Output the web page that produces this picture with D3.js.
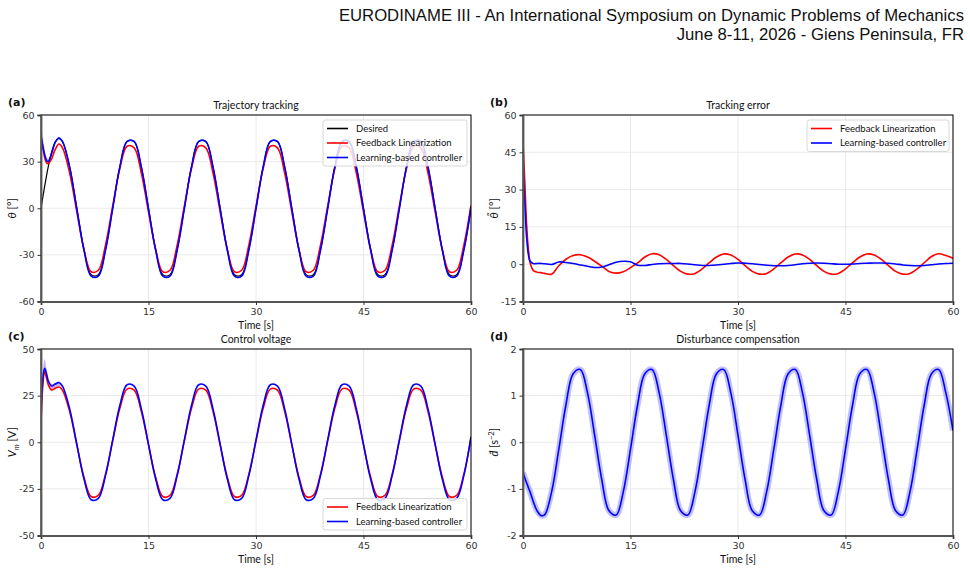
<!DOCTYPE html>
<html lang="en">
<head>
<meta charset="UTF-8">
<title>Pendulum tracking results</title>
<script src="https://cdn.jsdelivr.net/npm/d3@7"></script>
<style>
  body { margin: 0; background: #fff; }
  .tick text { font-family: "DejaVu Sans", sans-serif; font-size: 9.5px; fill: #333; }
  .tick line { stroke: #333; }
  .txt { font-family: Lato, "DejaVu Sans", sans-serif; fill: #111; }
  .letter { font-family: "DejaVu Sans", sans-serif; font-weight: bold; font-size: 11px; fill: #111; }
  .header { font-family: "Liberation Sans", Arial, sans-serif; font-size: 16.7px; fill: #111; }
</style>
</head>
<body>
<script>
// sample times [s]
const time = [0, 0.25, 0.5, 0.75, 1, 1.5, 2, 2.5].concat(d3.range(3, 61));

const xTicks = [0, 15, 30, 45, 60];

// (a) trajectory tracking, theta [deg]
const thetaDesired = [0, 7.0, 13.9, 20.4, 26.5, 36.4, 42.8, 45.0,
  42.8, 26.5, 0, -26.5, -42.8, -42.8, -26.5,
  0, 26.5, 42.8, 42.8, 26.5, 0, -26.5, -42.8, -42.8, -26.5,
  0, 26.5, 42.8, 42.8, 26.5, 0, -26.5, -42.8, -42.8, -26.5,
  0, 26.5, 42.8, 42.8, 26.5, 0, -26.5, -42.8, -42.8, -26.5,
  0, 26.5, 42.8, 42.8, 26.5, 0, -26.5, -42.8, -42.8, -26.5,
  0, 26.5, 42.8, 42.8, 26.5, 0, -26.5, -42.8, -42.8, -26.5,
  0];
const thetaFL = [46, 39.5, 33, 29.5, 28.7, 32, 38, 41.3,
  38.9, 22.7, -2.3, -26.6, -40.9, -39.9, -23.7,
  1.3, 25.6, 39.9, 38.9, 22.7, -2.3, -26.6, -40.9, -39.9, -23.7,
  1.3, 25.6, 39.9, 38.9, 22.7, -2.3, -26.6, -40.9, -39.9, -23.7,
  1.3, 25.6, 39.9, 38.9, 22.7, -2.3, -26.6, -40.9, -39.9, -23.7,
  1.3, 25.6, 39.9, 38.9, 22.7, -2.3, -26.6, -40.9, -39.9, -23.7,
  1.3, 25.6, 39.9, 38.9, 22.7, -2.3, -26.6, -40.9, -39.9, -23.7,
  1.8];
const thetaLB = [46.5, 40, 34.5, 31, 30, 35.5, 42.5, 45.2,
  43.0, 26.6, -0.4, -27.0, -43.7, -43.7, -27.0,
  -0.4, 26.6, 43.0, 43.0, 26.6, -0.4, -27.0, -43.7, -43.7, -27.0,
  -0.4, 26.6, 43.0, 43.0, 26.6, -0.4, -27.0, -43.7, -43.7, -27.0,
  -0.4, 26.6, 43.0, 43.0, 26.6, -0.4, -27.0, -43.7, -43.7, -27.0,
  -0.4, 26.6, 43.0, 43.0, 26.6, -0.4, -27.0, -43.7, -43.7, -27.0,
  -0.4, 26.6, 43.0, 43.0, 26.6, -0.4, -27.0, -43.7, -43.7, -27.0,
  0.5];
const thetaBandHi = [55, 46, 38.5, 33.5, 31.5, 36.3, 43.2, 45.6, 43.3];
const thetaBandLo = [44, 37.5, 32, 29, 28.3, 33.5, 41.5, 44.7, 42.7];

// (b) tracking error [deg]
const errFL = [49, 33, 16, 6, 0.5, -2.7, -3.2, -3.4,
  -3.7, -4.0, -0.6, 2.0, 3.5, 3.8, 2.9,
  1.2, -0.8, -2.9, -3.6, -3.0, -1.4, 0.5, 2.9, 4.2, 3.8,
  1.9, -0.6, -2.9, -4.0, -3.7, -1.9, 0.6, 2.9, 4.1, 3.7,
  1.9, -0.6, -2.9, -4.0, -3.7, -1.9, 0.6, 2.9, 4.1, 3.7,
  1.9, -0.6, -2.9, -4.0, -3.7, -1.9, 0.6, 2.9, 4.1, 3.7,
  1.9, -0.6, -2.9, -4.0, -3.7, -1.9, 0.6, 3.1, 4.2, 3.5,
  2.4];
const errLB = [41, 25, 11, 4, 1.2, 0.2, 0.3, 0.3,
  0.2, -0.1, 0.9, 0.7, 0.3, -0.3, -0.8,
  -1.3, -1.1, -0.2, 0.8, 1.2, 1.0, -0.4, -0.5, -0.1, 0.2,
  0.3, 0.3, 0.3, 0.1, -0.2, -0.5, -0.5, -0.3, 0.0, 0.3,
  0.5, 0.4, 0.2, -0.1, -0.4, -0.6, -0.6, -0.5, -0.2, 0.2,
  0.4, 0.5, 0.4, 0.2, 0.0, 0.0, 0.1, 0.3, 0.4, 0.5,
  0.5, 0.4, 0.1, -0.3, -0.5, -0.6, -0.5, -0.2, 0.1, 0.3,
  0.4];
const errBandHi = [49.5, 36, 19, 8, 2.2];
const errBandLo = [39, 23, 9.5, 3, 0.2];

// (c) control voltage [V]
const voltFL = [9, 30, 37.8, 35, 31, 28, 29, 29.6,
  27.9, 16.5, -1.4, -18.8, -29.1, -28.5, -17.1,
  0.7, 18.2, 28.5, 27.9, 16.5, -1.4, -18.8, -29.1, -28.5, -17.1,
  0.7, 18.2, 28.5, 27.9, 16.5, -1.4, -18.8, -29.1, -28.5, -17.1,
  0.7, 18.2, 28.5, 27.9, 16.5, -1.4, -18.8, -29.1, -28.5, -17.1,
  0.7, 18.2, 28.5, 27.9, 16.5, -1.4, -18.8, -29.1, -28.5, -17.1,
  0.7, 18.2, 28.5, 27.9, 16.5, -1.4, -18.8, -29.1, -28.5, -17.1,
  2.5];
const voltLB = [13.7, 34, 39.6, 37, 33, 30.2, 31.2, 32,
  30.1, 17.9, -1.1, -19.7, -30.8, -30.1, -17.9,
  1.1, 19.7, 30.8, 30.1, 17.9, -1.1, -19.7, -30.8, -30.1, -17.9,
  1.1, 19.7, 30.8, 30.1, 17.9, -1.1, -19.7, -30.8, -30.1, -17.9,
  1.1, 19.7, 30.8, 30.1, 17.9, -1.1, -19.7, -30.8, -30.1, -17.9,
  1.1, 19.7, 30.8, 30.1, 17.9, -1.1, -19.7, -30.8, -30.1, -17.9,
  1.1, 19.7, 30.8, 30.1, 17.9, -1.1, -19.7, -30.8, -30.1, -17.9,
  3.0];
const voltBandHi = [16, 38, 44.5, 40, 35, 31.2, 31.9, 32.6, 30.5];
const voltBandLo = [6, 28, 36, 33.5, 30.5, 28.3, 29.2, 30.2, 29.6];

// (d) estimated disturbance [s^-2]
const dHat = [-0.65, -0.76, -0.87, -0.97, -1.07, -1.3, -1.48, -1.57,
  -1.56, -1.06, -0.15, 0.81, 1.47, 1.56, 1.06,
  0.15, -0.81, -1.47, -1.56, -1.06, -0.15, 0.81, 1.47, 1.56, 1.06,
  0.15, -0.81, -1.47, -1.56, -1.06, -0.15, 0.81, 1.47, 1.56, 1.06,
  0.15, -0.81, -1.47, -1.56, -1.06, -0.15, 0.81, 1.47, 1.56, 1.06,
  0.15, -0.81, -1.47, -1.56, -1.06, -0.15, 0.81, 1.47, 1.56, 1.06,
  0.15, -0.81, -1.47, -1.56, -1.06, -0.15, 0.81, 1.47, 1.56, 1.06,
  0.25];

const RED = "#ff0000", BLUE = "#0000ff";

const svg = d3.select("body").append("svg")
  .attr("width", 970)
  .attr("height", 572);

// conference header
svg.append("text").attr("class", "header")
  .attr("x", 964).attr("y", 21).attr("text-anchor", "end")
  .text("EURODINAME III - An International Symposium on Dynamic Problems of Mechanics");
svg.append("text").attr("class", "header")
  .attr("x", 964).attr("y", 40).attr("text-anchor", "end")
  .text("June 8-11, 2026 - Giens Peninsula, FR");

function drawPanel(p) {
  const x = d3.scaleLinear().domain([0, 60]).range([p.x0, p.x1]);
  const y = d3.scaleLinear().domain(p.yDomain).range([p.y1, p.y0]);
  const g = svg.append("g");

  // grid
  g.append("g").selectAll("line").data(xTicks).join("line")
    .attr("x1", d => x(d)).attr("x2", d => x(d))
    .attr("y1", p.y0).attr("y2", p.y1)
    .attr("stroke", "#e8e8e8").attr("stroke-width", 0.9);
  g.append("g").selectAll("line").data(p.yTicks).join("line")
    .attr("x1", p.x0).attr("x2", p.x1)
    .attr("y1", d => y(d)).attr("y2", d => y(d))
    .attr("stroke", "#e8e8e8").attr("stroke-width", 0.9);

  g.append("clipPath").attr("id", "clip-" + p.id)
    .append("rect").attr("x", p.x0).attr("y", p.y0)
    .attr("width", p.x1 - p.x0).attr("height", p.y1 - p.y0);
  const plot = g.append("g").attr("clip-path", `url(#clip-${p.id})`);

  // spread of the runs near the start
  if (p.bandHi) {
    const area = d3.area()
      .x((d, i) => x(time[i]))
      .y0((d, i) => y(p.bandLo[i]))
      .y1(d => y(d))
      .curve(d3.curveCatmullRom);
    plot.append("path").datum(p.bandHi)
      .attr("d", area)
      .attr("fill", "#9a4fc8").attr("fill-opacity", 0.45);
  }

  const line = d3.line()
    .x((d, i) => x(time[i]))
    .y(d => y(d))
    .curve(d3.curveCatmullRom);

  p.series.forEach(s => {
    if (s.glow) {
      plot.append("path").datum(s.values)
        .attr("d", line).attr("fill", "none")
        .attr("stroke", "#8585ff").attr("stroke-opacity", 0.5)
        .attr("stroke-width", 6).attr("stroke-linejoin", "round");
    }
    plot.append("path").datum(s.values)
      .attr("d", line).attr("fill", "none")
      .attr("stroke", s.color).attr("stroke-width", s.width || 1.6)
      .attr("stroke-linejoin", "round");
  });

  // frame
  g.append("rect").attr("x", p.x0).attr("y", p.y0)
    .attr("width", p.x1 - p.x0).attr("height", p.y1 - p.y0)
    .attr("fill", "none").attr("stroke", "#000").attr("stroke-width", 1);

  // axes
  const ax = g.append("g").attr("transform", `translate(0,${p.y1})`)
    .call(d3.axisBottom(x).tickValues(xTicks).tickSize(3.5).tickPadding(3).tickFormat(d => String(d)));
  ax.select(".domain").attr("stroke", "#555").attr("stroke-width", 1.8);
  const ay = g.append("g").attr("transform", `translate(${p.x0},0)`)
    .call(d3.axisLeft(y).tickValues(p.yTicks).tickSize(3.5).tickPadding(3).tickFormat(d => String(d)));
  ay.select(".domain").attr("stroke", "#555").attr("stroke-width", 1.8);
  g.selectAll(".tick text").attr("font-family", null).attr("font-size", null);

  // titles and labels
  const mid = (p.x0 + p.x1) / 2;
  g.append("text").attr("class", "letter")
    .attr("x", p.x0 - 33).attr("y", p.y0 - 9).text(p.letter);
  g.append("text").attr("class", "txt")
    .attr("x", mid).attr("y", p.y0 - 6).attr("text-anchor", "middle")
    .attr("font-size", 10.5).text(p.title);
  g.append("text").attr("class", "txt")
    .attr("x", mid).attr("y", p.y1 + 27).attr("text-anchor", "middle")
    .attr("font-size", 10.5).text("Time [s]");
  const yl = g.append("text").attr("class", "txt")
    .attr("font-size", 11).attr("text-anchor", "middle")
    .attr("transform", `translate(${p.x0 - 25},${(p.y0 + p.y1) / 2}) rotate(-90)`);
  p.ylabel(yl);

  // legend
  if (p.legend) {
    const lw = p.legendWidth, lh = p.legend.length * 14.5 + 2.5;
    const lx = p.x1 - 4 - lw;
    const ly = p.legendBottom ? p.y1 - 5.5 - lh : p.y0 + 5;
    const lg = g.append("g");
    lg.append("rect").attr("x", lx).attr("y", ly)
      .attr("width", lw).attr("height", lh).attr("rx", 2.5)
      .attr("fill", "#fff").attr("fill-opacity", 0.82)
      .attr("stroke", "#d4d4d4").attr("stroke-width", 0.9);
    p.legend.forEach((item, i) => {
      const cy = ly + 8.5 + i * 14.5;
      lg.append("line").attr("x1", lx + 4).attr("x2", lx + 25)
        .attr("y1", cy).attr("y2", cy)
        .attr("stroke", item.color).attr("stroke-width", 1.6);
      lg.append("text").attr("class", "txt")
        .attr("x", lx + 33).attr("y", cy + 3.3)
        .attr("font-size", 9.5).text(item.label);
    });
  }
}

const legendAll = [
  { label: "Desired", color: "#000" },
  { label: "Feedback Linearization", color: RED },
  { label: "Learning-based controller", color: BLUE }
];

drawPanel({
  id: "a", letter: "(a)", title: "Trajectory tracking",
  x0: 41, x1: 471, y0: 115, y1: 301.5,
  yDomain: [-60, 60], yTicks: [-60, -30, 0, 30, 60],
  series: [
    { values: thetaDesired, color: "#000", width: 1.2 },
    { values: thetaFL, color: RED },
    { values: thetaLB, color: BLUE }
  ],
  bandHi: thetaBandHi, bandLo: thetaBandLo,
  legend: legendAll, legendWidth: 144,
  ylabel: t => {
    t.append("tspan").attr("font-style", "italic").text("θ");
    t.append("tspan").text(" [°]");
  }
});

drawPanel({
  id: "b", letter: "(b)", title: "Tracking error",
  x0: 523, x1: 953, y0: 115, y1: 301.5,
  yDomain: [-15, 60], yTicks: [-15, 0, 15, 30, 45, 60],
  series: [
    { values: errFL, color: RED },
    { values: errLB, color: BLUE }
  ],
  bandHi: errBandHi, bandLo: errBandLo,
  legend: legendAll.slice(1), legendWidth: 142,
  ylabel: t => {
    t.append("tspan").attr("font-style", "italic").text("θ̃");
    t.append("tspan").text(" [°]");
  }
});

drawPanel({
  id: "c", letter: "(c)", title: "Control voltage",
  x0: 41, x1: 471, y0: 349, y1: 535.5,
  yDomain: [-50, 50], yTicks: [-50, -25, 0, 25, 50],
  series: [
    { values: voltFL, color: RED },
    { values: voltLB, color: BLUE }
  ],
  bandHi: voltBandHi, bandLo: voltBandLo,
  legend: legendAll.slice(1), legendWidth: 144, legendBottom: true,
  ylabel: t => {
    t.append("tspan").attr("font-style", "italic").text("V");
    t.append("tspan").attr("font-style", "italic").attr("font-size", 7.5).attr("dy", 2.5).text("m");
    t.append("tspan").attr("dy", -2.5).text(" [V]");
  }
});

drawPanel({
  id: "d", letter: "(d)", title: "Disturbance compensation",
  x0: 523, x1: 953, y0: 349, y1: 535.5,
  yDomain: [-2, 2], yTicks: [-2, -1, 0, 1, 2],
  series: [
    { values: dHat, color: BLUE, glow: true }
  ],
  ylabel: t => {
    t.append("tspan").attr("font-style", "italic").text("d̂");
    t.append("tspan").text(" [s");
    t.append("tspan").attr("font-size", 7.5).attr("dy", -4).text("−2");
    t.append("tspan").attr("dy", 4).text("]");
  }
});
</script>
</body>
</html>
